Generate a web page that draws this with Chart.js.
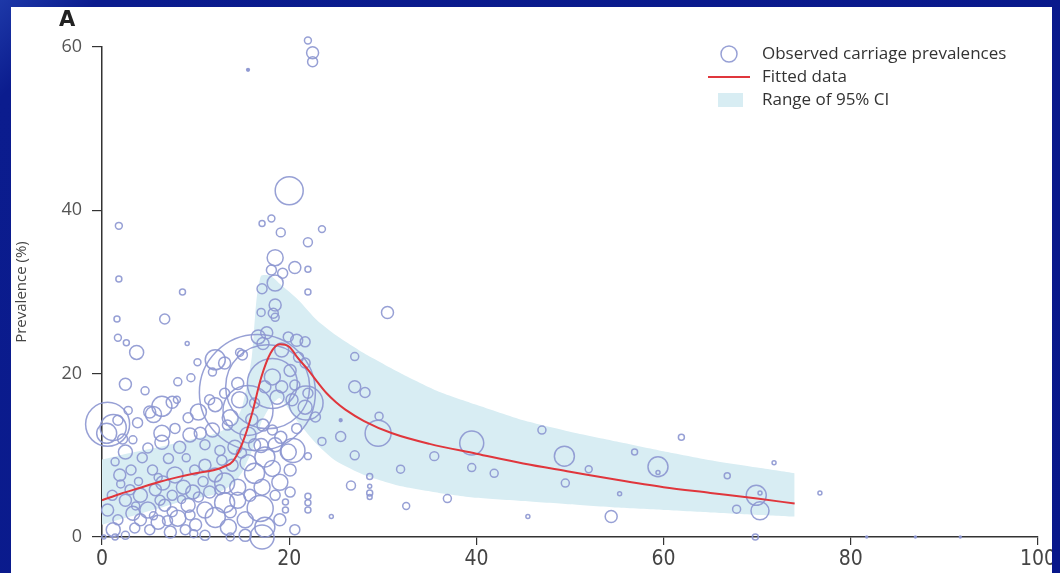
<!DOCTYPE html>
<html><head><meta charset="utf-8">
<script src="https://cdn.jsdelivr.net/npm/chart.js@4.4.1/dist/chart.umd.min.js"></script>
<style>
html,body{margin:0;padding:0;}
body{width:1060px;height:573px;background:linear-gradient(135deg,#1d38a8 0%,#0b1c8e 6%,#08178a 100%);position:relative;overflow:hidden;}
#panel{position:absolute;left:11px;top:7px;width:1041px;height:566px;background:#fff;overflow:hidden;}
#wrap{position:absolute;left:0;top:0;width:1060px;height:566px;}
#lbl{position:absolute;left:48px;top:0px;font:bold 21px "DejaVu Sans","Open Sans",sans-serif;line-height:24px;color:#222;}
</style></head>
<body>
<div id="panel"><div id="wrap"><canvas id="c" width="1060" height="566"></canvas></div><div id="lbl">A</div></div>
<script>
// Observed carriage prevalences: age (years), prevalence (%), study size
const bubbleAge = [22.0,22.5,22.5,15.6,20.0,1.8,17.1,18.1,19.1,23.5,22.0,18.5,1.8,8.6,18.1,19.3,20.6,22.0,18.5,17.1,22.0,18.5,18.3,18.5,
1.6,6.7,1.7,2.6,3.7,9.1,2.5,4.6,8.1,6.4,10.2,9.5,8.0,
30.5,21.7,27.0,27.0,28.1,29.6,29.5,25.5,23.5,22.0,27.0,25.5,28.6,28.6,28.6,28.6,26.6,22.0,22.0,22.0,24.5,32.5,31.9,35.5,36.9,39.5,39.5,41.9,45.5,47.0,49.4,49.5,52.0,54.4,55.3,56.9,59.4,59.4,61.9,66.8,67.8,69.9,70.3,70.3,71.8,69.8,76.7,81.7,86.9,91.7,
16.6,17.7,18.2,15.6,21.8,17.0,16.7,17.6,17.2,19.9,20.8,21.0,19.2,15.0,13.1,11.8,20.1,21.7,18.2,19.2,20.6,17.4,18.7,20.3,21.7,16.3,14.5,13.1,22.0,22.8,11.5,12.1,14.7,
5.5,7.5,5.1,9.2,10.3,12.1,13.7,14.7,0.6,0.5,1.7,2.8,
1.2,2.5,3.8,6.4,6.4,9.4,10.5,7.8,11.8,13.4,14.2,12.6,15.6,17.2,18.2,19.9,20.4,4.9,8.3,11.0,16.3,18.5,
3.1,5.4,7.8,6.5,8.7,9.7,17.4,18.2,15.6,16.3,19.0,13.1,14.5,17.1,1.4,4.3,11.0,12.1,13.9,9.9,20.1,1.9,
1.2,3.3,14.5,13.1,16.9,12.1,17.4,13.5,15.3,17.1,19.6,19.6,0.6,1.7,2.5,4.1,4.9,6.0,6.7,7.5,8.1,9.2,10.0,11.0,10.3,8.9,7.3,5.1,3.5,2.5,4.1,6.2,11.5,12.6,15.8,18.5,20.1,15.3,11.0,1.4,0.2,3.0,1.1,13.7,9.4,5.7,7.5,19.0,20.6,13.7,
2.0,3.6,5.5,7.0,8.5,9.8,10.8,6.0,3.9,12.8,14.9,16.0,17.0,19.1,20.8,2.2,3.3,9.0,7.1];
const bubblePrev = [60.8,59.3,58.2,57.2,42.4,38.1,38.4,39.0,37.3,37.7,36.1,34.2,31.6,30.0,32.7,32.3,33.0,32.8,31.1,30.4,30.0,28.4,27.4,26.9,
26.7,26.7,24.4,23.8,22.6,23.7,18.7,17.9,19.0,16.0,21.4,19.5,16.8,
27.5,23.9,22.1,18.4,17.7,14.8,12.7,12.3,11.7,9.9,10.0,14.3,7.4,6.2,5.4,4.9,6.3,5.0,4.2,3.3,2.5,3.8,8.3,9.9,4.7,11.5,8.5,7.8,2.5,13.1,9.9,6.6,8.3,2.5,5.3,10.4,8.6,7.9,12.2,7.5,3.4,5.1,3.2,5.4,9.1,0.0,5.4,0,0,0,
17.7,18.4,18.8,15.5,16.4,27.5,24.5,25.0,23.7,24.5,24.1,22.0,22.9,22.3,21.3,20.2,20.4,21.3,19.6,18.4,18.6,18.4,17.1,16.8,15.9,16.4,18.8,17.6,17.6,14.7,16.8,21.7,22.6,
15.0,16.5,15.3,14.6,15.3,16.2,14.6,16.8,13.8,12.7,14.3,15.5,
13.4,10.4,14.0,12.7,11.6,12.5,12.7,13.3,13.1,13.7,11.0,10.6,12.5,13.7,13.1,10.4,10.6,10.9,11.0,11.3,11.3,11.3,
8.2,8.2,7.6,6.6,6.1,5.5,9.8,8.4,9.1,7.8,6.7,6.6,6.1,6.1,9.2,9.7,8.8,7.6,8.8,8.2,8.2,7.6,
0.9,2.9,4.5,4.2,3.5,2.4,1.2,1.2,2.1,0.0,4.3,3.3,3.3,2.1,4.5,5.1,3.3,1.8,3.9,5.1,2.3,3.9,1.5,3.3,4.9,0.9,0.6,0.9,1.1,0.2,2.1,4.5,5.5,5.8,5.1,5.1,5.5,0.2,0.2,0.0,0.0,5.8,5.1,3.1,2.7,5.8,3.1,2.1,0.9,0.0,
6.5,3.8,2.6,2.0,4.6,0.4,6.8,7.3,6.8,9.4,10.3,14.4,11.2,12.2,13.3,12.0,11.9,9.7,9.6];
const bubbleN = [12,36,25,2,196,12,9,12,20,12,20,64,9,9,25,25,36,9,64,25,9,36,25,16,
9,25,12,9,49,4,36,16,16,100,12,16,12,
36,25,16,36,25,16,169,25,16,12,20,2,9,4,9,6,20,9,9,9,4,12,16,20,16,144,16,16,4,16,100,16,12,36,4,9,100,4,9,9,16,100,81,4,4,9,4,1,1,1,
3364,1764,625,625,289,16,49,36,36,25,36,25,49,25,36,16,36,25,64,36,25,36,49,36,49,25,36,25,25,25,25,100,16,
64,36,36,25,64,49,64,64,484,100,25,16,
169,49,25,64,49,49,36,25,49,25,49,25,64,36,25,64,144,25,36,25,36,49,
25,25,64,49,49,49,100,64,64,100,64,100,64,64,16,25,36,49,36,25,36,36,
49,49,64,100,169,100,100,64,64,144,9,9,36,25,36,49,64,49,36,25,64,49,36,64,25,25,36,25,25,16,36,25,36,25,36,25,25,36,25,9,4,25,25,36,25,36,25,36,25,16,
16,16,16,25,16,16,25,16,16,25,25,36,49,36,25,25,16,16,25];

// Fitted model
const fitAge  = [0,2,4,6,8,10,12,13,14,15,16,17,18,19,20,21,22,23,24,25,26,28,31,35,40,45,50,55,60,65,70,74];
const fitPrev = [4.5,5.3,6.0,6.7,7.3,7.8,8.2,8.6,9.3,11.5,15.0,19.5,22.5,23.6,23.3,21.8,20.5,19.0,17.6,16.5,15.6,14.2,12.7,11.4,10.2,9.0,8.0,7.0,6.1,5.4,4.7,4.1];

// 95% CI range
const ciAge  = [0,3,6,9,12,14,15,16,16.5,17,18,19,21,23,25,28,32,36,40,45,50,55,60,65,70,74];
const ciLow  = [1.5,2.5,3.5,4.5,5.2,6.5,8.0,10.5,12,14,16,17,14,11.3,9.3,7.6,6.2,5.4,4.8,4.4,4.0,3.6,3.3,3.0,2.7,2.5];
const ciHigh = [9.5,10.3,11.0,11.8,12.6,13.8,16,22,29,32,32,31,29,26.5,24.7,22.5,20.0,17.8,16.2,14.3,12.9,11.7,10.5,9.4,8.5,7.8];

const xTicks = [0,20,40,60,80,100];
const yTicks = [0,20,40,60];
const legendLabels = ['Observed carriage prevalences','Fitted data','Range of 95% CI'];

const bubbleColor = 'rgba(140,150,208,0.9)';
const lineColor = '#e0363c';
const bandColor = '#d8edf3';

const bubbles = bubbleAge.map((a,i)=>({x:a, y:bubblePrev[i], r:Math.sqrt(bubbleN[i])}));
const fit = fitAge.map((a,i)=>({x:a, y:fitPrev[i]}));
const lo = ciAge.map((a,i)=>({x:a, y:ciLow[i]}));
const hi = ciAge.map((a,i)=>({x:a, y:ciHigh[i]}));

const legendPlugin = {
  id:'customLegend',
  afterDraw(chart){
    const c = chart.ctx;
    c.save();
    c.font = '17px "Open Sans","Noto Sans",sans-serif';
    c.fillStyle = '#333';
    c.textBaseline = 'middle';
    const tx = 751, ys = [47,70,93];
    c.beginPath(); c.strokeStyle = bubbleColor; c.lineWidth = 1.5;
    c.arc(718, ys[0], 8, 0, Math.PI*2); c.stroke();
    c.beginPath(); c.strokeStyle = lineColor; c.lineWidth = 2;
    c.moveTo(697, ys[1]); c.lineTo(739, ys[1]); c.stroke();
    c.fillStyle = bandColor; c.fillRect(707, ys[2]-7, 25, 14);
    c.fillStyle = '#333';
    legendLabels.forEach((t,i)=>c.fillText(t, tx, ys[i]));
    c.restore();
  }
};

new Chart(document.getElementById('c'), {
  data:{
    datasets:[
      {type:'line', label:legendLabels[1], data:fit, borderColor:lineColor, borderWidth:2, pointRadius:0, cubicInterpolationMode:'monotone', fill:false, clip:false},
      {type:'bubble', label:legendLabels[0], data:bubbles, borderColor:bubbleColor, borderWidth:1.5, hoverRadius:15,
        backgroundColor:(ctx)=>{const v=ctx.raw; return (v && v.r<1.6)?bubbleColor:'rgba(0,0,0,0)';}, clip:false},
      {type:'line', label:legendLabels[2], data:hi, borderWidth:0, borderColor:'rgba(0,0,0,0)', pointRadius:0, backgroundColor:bandColor, fill:'+1', tension:0.2},
      {type:'line', label:'low', data:lo, borderWidth:0, borderColor:'rgba(0,0,0,0)', pointRadius:0, fill:false, tension:0.2}
    ]
  },
  options:{
    responsive:false, devicePixelRatio:1, animation:false, events:[],
    layout:{autoPadding:false, padding:{top:40,right:33,left:0,bottom:0}},
    plugins:{legend:{display:false}, tooltip:{enabled:false}},
    scales:{
      x:{type:'linear', min:0, max:100,
        afterBuildTicks:(s)=>{s.ticks = xTicks.map(v=>({value:v}));},
        afterFit:(s)=>{s.height=36;},
        ticks:{color:'#444', padding:2, font:{family:'"Liberation Sans Narrow","DejaVu Sans Condensed","Roboto Condensed",Roboto,sans-serif', size:21}, maxRotation:0},
        grid:{drawOnChartArea:false, drawTicks:true, tickLength:8, color:'#333', lineWidth:1.2},
        border:{color:'#333', width:1.5}
      },
      y:{type:'linear', min:0, max:60,
        afterBuildTicks:(s)=>{s.ticks = yTicks.map(v=>({value:v}));},
        afterFit:(s)=>{s.width=91;},
        ticks:{color:'#555', padding:10, font:{family:'"Open Sans","Noto Sans",sans-serif', size:18}},
        grid:{drawOnChartArea:false, drawTicks:true, tickLength:10, color:'#333', lineWidth:1.2},
        border:{color:'#333', width:1.5},
        title:{display:true, text:'Prevalence (%)', color:'#444', padding:{top:2,bottom:0}, font:{family:'"Open Sans","Noto Sans",sans-serif', size:15}}
      }
    }
  },
  plugins:[legendPlugin]
});
</script>
</body></html>
